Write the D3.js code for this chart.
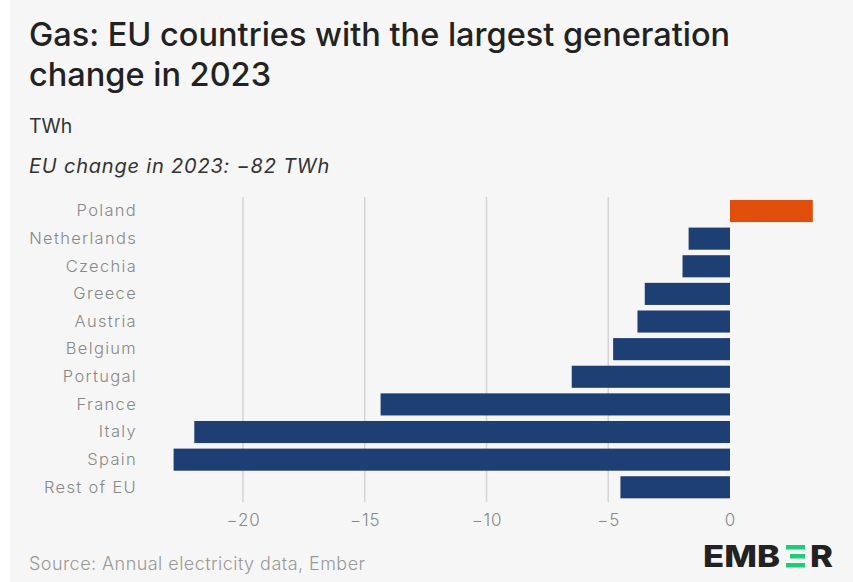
<!DOCTYPE html>
<html><head><meta charset="utf-8">
<script src="https://cdn.jsdelivr.net/npm/d3@7"></script>
<style>
html,body{margin:0;padding:0;background:#fff;}
svg{display:block;}
</style></head>
<body>
<svg id="chart" width="853" height="582"></svg>
<script>
const countries = ["Poland","Netherlands","Czechia","Greece","Austria","Belgium","Portugal","France","Italy","Spain","Rest of EU"];
const changeTWh = [3.4,-1.7,-1.95,-3.5,-3.8,-4.8,-6.5,-14.35,-22.0,-22.85,-4.5];
const xTicks = [-20,-15,-10,-5,0];
const titleLines = ["Gas: EU countries with the largest generation","change in 2023"];
const unitLabel = "TWh";
const subtitle = "EU change in 2023: \u221282 TWh";
const source = "Source: Annual electricity data, Ember";

const svg = d3.select("#chart");
const W = 853, H = 582;
svg.append("rect").attr("x",10).attr("y",0).attr("width",W-10).attr("height",H).attr("fill","#f6f6f6");

const font = "Inter, 'Noto Sans', sans-serif";
const x = d3.scaleLinear().domain([-20,0]).range([243,730]);
const y = d3.scaleBand().domain(countries).range([197.2,501.1]).paddingInner(0.2).paddingOuter(0.1);

// title
svg.append("g").selectAll("text").data(titleLines).join("text")
  .attr("x",29).attr("y",(d,i)=>46+i*40)
  .attr("font-family",font).attr("font-size",32.5).attr("font-weight",500)
  .attr("fill","#222").text(d=>d);
svg.append("text").attr("x",29).attr("y",133).attr("font-family",font).attr("font-size",19.5)
  .attr("fill","#333").text(unitLabel);
svg.append("text").attr("x",29).attr("y",173).attr("font-family",font).attr("font-size",20)
  .attr("font-style","italic").attr("letter-spacing","0.8px").attr("fill","#333").text(subtitle);

// grid
const grid = svg.append("g");
grid.selectAll("line").data(xTicks.filter(d=>d!==0)).join("line")
  .attr("x1",d=>x(d)).attr("x2",d=>x(d)).attr("y1",197).attr("y2",502)
  .attr("stroke","#d4d4d4").attr("stroke-width",1.5);

// bars
svg.append("g").selectAll("rect").data(countries).join("rect")
  .attr("x",(d,i)=>x(Math.min(0,changeTWh[i])))
  .attr("width",(d,i)=>Math.abs(x(changeTWh[i])-x(0)))
  .attr("y",d=>y(d)).attr("height",y.bandwidth())
  .attr("fill",(d,i)=>changeTWh[i]>0?"#e04e0c":"#1e3f73");

// y axis labels
const yAxis = svg.append("g").attr("transform","translate(137,0)")
  .call(d3.axisLeft(y).tickSize(0).tickPadding(0));
yAxis.select(".domain").remove();
yAxis.selectAll("text").attr("font-family",font).attr("font-size",16.5).attr("font-weight",300).attr("fill","#888")
  .attr("letter-spacing","1.3px");

// x axis
const xAxis = svg.append("g").attr("transform","translate(0,510)")
  .call(d3.axisBottom(x).tickValues(xTicks).tickSize(0).tickPadding(4).tickFormat(d=>d<0?"\u2212"+Math.abs(d):d));
xAxis.select(".domain").remove();
xAxis.selectAll("text").attr("font-family",font).attr("font-size",17).attr("font-weight",300).attr("letter-spacing","0.8px").attr("fill","#888");

// source
svg.append("text").attr("x",29).attr("y",570).attr("font-family",font).attr("font-size",18).attr("font-weight",300)
  .attr("letter-spacing","0.45px").attr("fill","#999").text(source);

// logo
const logo = svg.append("g").attr("font-family","Inter, 'DejaVu Sans', sans-serif").attr("font-weight",800)
  .attr("font-size",30).attr("fill","#222");
logo.append("text").attr("x",703).attr("y",567).attr("textLength",77).attr("lengthAdjust","spacingAndGlyphs").text("EMB");
logo.append("text").attr("x",810).attr("y",567).attr("textLength",23).attr("lengthAdjust","spacingAndGlyphs").text("R");
[0,1,2].forEach(i=>{
  logo.append("rect").attr("x",i===1?790:786).attr("y",545+i*9).attr("width",i===1?15:19).attr("height",4.5).attr("fill","#1fcc7a");
});
</script>
</body></html>
